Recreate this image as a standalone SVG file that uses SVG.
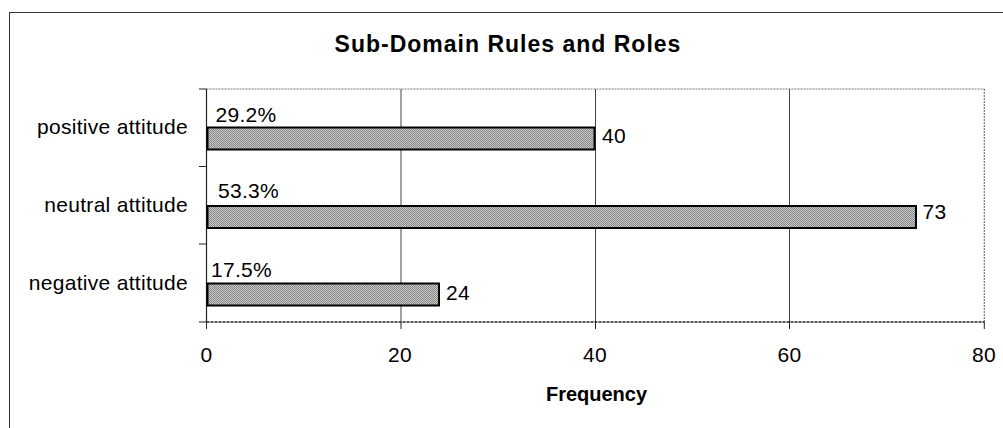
<svg xmlns="http://www.w3.org/2000/svg" width="1003" height="428" viewBox="0 0 1003 428">
  <style>
    text { font-family: "Liberation Sans", Arial, sans-serif; fill: #000; }
    .title { font-size: 23px; font-weight: bold; letter-spacing: 1px; }
    .axis-title { font-size: 20px; font-weight: bold; }
    .lbl { font-size: 21px; letter-spacing: 0.3px; }
    .frame { stroke: #333; stroke-width: 1; fill: none; }
    .grid { stroke: #444; stroke-width: 1; }
    .plot-edge { stroke: #777; stroke-width: 1.2; stroke-dasharray: 2 1; fill: none; }
    .axis { stroke: #222; stroke-width: 1.2; }
    .axis-dotted { stroke: #222; stroke-width: 1.4; stroke-dasharray: 3 1; }
    .tick { stroke: #222; stroke-width: 1; }
    .bar { fill: url(#dither); stroke: #000; stroke-width: 2; }
  </style>
  <defs>
    <!-- fine two-tone dither used for bar fills -->
    <pattern id="dither" width="2" height="2" patternUnits="userSpaceOnUse">
      <rect width="2" height="2" fill="#c6c6c6"/>
      <rect x="0" y="0" width="1" height="1" fill="#8a8a8a"/>
      <rect x="1" y="1" width="1" height="1" fill="#8a8a8a"/>
    </pattern>
  </defs>

  <rect width="1003" height="428" fill="#fff"/>

  <!-- chart area frame (top and left edges) -->
  <g id="chart-frame">
    <line class="frame" x1="9" y1="12.5" x2="1003" y2="12.5"/>
    <line class="frame" x1="9.5" y1="12" x2="9.5" y2="428"/>
  </g>

  <g id="title">
    <text class="title" x="508" y="52" text-anchor="middle">Sub-Domain Rules and Roles</text>
  </g>

  <!-- plot area: border, gridlines, axes -->
  <g id="plot-area">
    <line class="plot-edge" x1="206.5" y1="89" x2="984.3" y2="89"/>
    <line class="plot-edge" x1="984.3" y1="89" x2="984.3" y2="322"/>
    <line class="grid" x1="401" y1="89" x2="401" y2="322"/>
    <line class="grid" x1="595.5" y1="89" x2="595.5" y2="322"/>
    <line class="grid" x1="789.5" y1="89" x2="789.5" y2="322"/>
  </g>

  <g id="category-axis">
    <line class="axis" x1="206.5" y1="89" x2="206.5" y2="322"/>
    <line class="tick" x1="199" y1="89" x2="206.5" y2="89"/>
    <line class="tick" x1="199" y1="166.5" x2="206.5" y2="166.5"/>
    <line class="tick" x1="199" y1="244" x2="206.5" y2="244"/>
    <line class="tick" x1="199" y1="322" x2="206.5" y2="322"/>
    <text class="lbl" x="188" y="134" text-anchor="end">positive attitude</text>
    <text class="lbl" x="188" y="212" text-anchor="end">neutral attitude</text>
    <text class="lbl" x="188" y="290" text-anchor="end">negative attitude</text>
  </g>

  <g id="value-axis">
    <line class="axis-dotted" x1="206.5" y1="322" x2="984.3" y2="322"/>
    <line class="tick" x1="206.5" y1="322" x2="206.5" y2="329"/>
    <line class="tick" x1="401" y1="322" x2="401" y2="329"/>
    <line class="tick" x1="595.5" y1="322" x2="595.5" y2="329"/>
    <line class="tick" x1="789.5" y1="322" x2="789.5" y2="329"/>
    <line class="tick" x1="984.3" y1="322" x2="984.3" y2="329"/>
    <text class="lbl" x="206.5" y="362.3" text-anchor="middle">0</text>
    <text class="lbl" x="400" y="362.3" text-anchor="middle">20</text>
    <text class="lbl" x="595" y="362.3" text-anchor="middle">40</text>
    <text class="lbl" x="789.5" y="362.3" text-anchor="middle">60</text>
    <text class="lbl" x="984" y="362.3" text-anchor="middle">80</text>
    <text class="axis-title" x="596.5" y="400.5" text-anchor="middle">Frequency</text>
  </g>

  <g id="bar-positive">
    <rect class="bar" x="207.5" y="127.5" width="387" height="22"/>
    <text class="lbl" x="215.5" y="121.7">29.2%</text>
    <text class="lbl" x="602" y="143.3">40</text>
  </g>

  <g id="bar-neutral">
    <rect class="bar" x="207.5" y="206" width="708.5" height="22"/>
    <text class="lbl" x="218" y="198.3">53.3%</text>
    <text class="lbl" x="922.5" y="219">73</text>
  </g>

  <g id="bar-negative">
    <rect class="bar" x="207.5" y="283.5" width="231.5" height="22"/>
    <text class="lbl" x="211" y="277.3">17.5%</text>
    <text class="lbl" x="446" y="299.5">24</text>
  </g>
</svg>
